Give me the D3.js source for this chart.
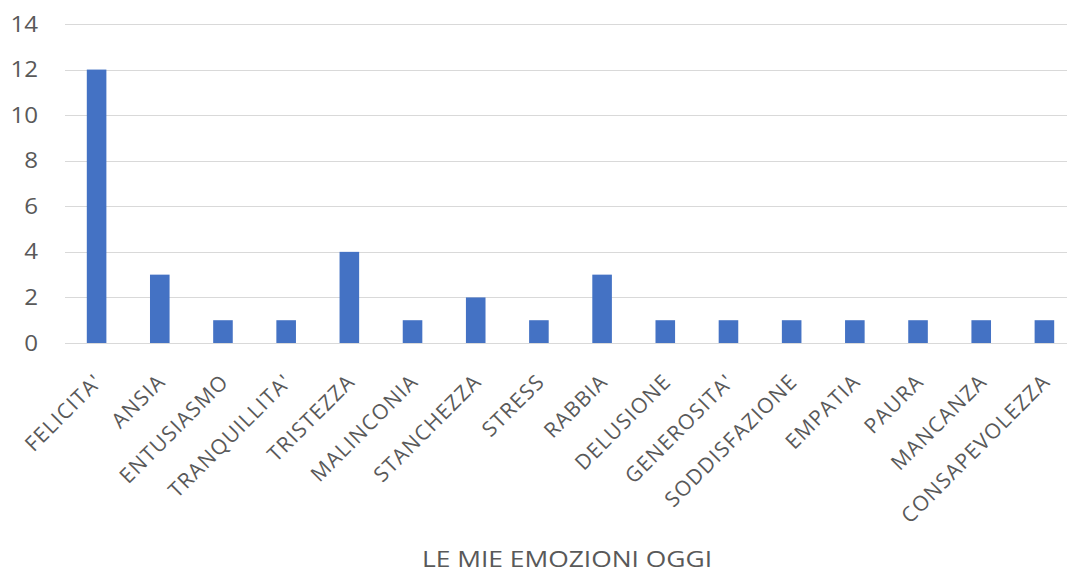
<!DOCTYPE html>
<meta charset="utf-8">
<style>
body { margin: 0; background: #fff; }
text { font-family: "Open Sans", sans-serif; fill: #595959; }
.grid line { stroke: #d9d9d9; stroke-width: 1px; }
</style>
<svg width="1067" height="578"></svg>
<script src="https://d3js.org/d3.v7.min.js"></script>
<script>

var categories = ["FELICITA'", "ANSIA", "ENTUSIASMO", "TRANQUILLITA'", "TRISTEZZA", "MALINCONIA",
  "STANCHEZZA", "STRESS", "RABBIA", "DELUSIONE", "GENEROSITA'", "SODDISFAZIONE",
  "EMPATIA", "PAURA", "MANCANZA", "CONSAPEVOLEZZA"];
var values = [12, 3, 1, 1, 4, 1, 2, 1, 3, 1, 1, 1, 1, 1, 1, 1];
var yTicks = [0, 2, 4, 6, 8, 10, 12, 14];
var title = "LE MIE EMOZIONI OGGI";

var svg = d3.select("svg"),
    plotLeft = 65, plotRight = 1076, plotTop = 24, plotBottom = 343;

var x = d3.scaleBand()
    .domain(categories)
    .range([plotLeft, plotRight])
    .paddingInner(0.69)
    .paddingOuter(0.345);

var y = d3.scaleLinear()
    .domain([0, 14])
    .range([plotBottom, plotTop]);

// gridlines
svg.append("g")
    .attr("class", "grid")
  .selectAll("line")
  .data(yTicks)
  .enter().append("line")
    .attr("x1", plotLeft)
    .attr("x2", plotRight)
    .attr("y1", function(d) { return Math.round(y(d)) + 0.5; })
    .attr("y2", function(d) { return Math.round(y(d)) + 0.5; });

// y labels
svg.append("g")
  .selectAll("text")
  .data(yTicks)
  .enter().append("text")
    .attr("transform", function(d) { return "translate(38," + y(d) + ") scale(1.15,1)"; })
    .attr("dy", "0.36em")
    .attr("text-anchor", "end")
    .style("font-size", "21px")
    .text(function(d) { return d; });

// bars
svg.append("g")
  .selectAll("rect")
  .data(values)
  .enter().append("rect")
    .attr("x", function(d, i) { return x(categories[i]); })
    .attr("width", x.bandwidth())
    .attr("y", function(d) { return y(d); })
    .attr("height", function(d) { return y(0) - y(d); })
    .attr("fill", "#4472c4");

// category labels
svg.append("g")
  .selectAll("text")
  .data(categories)
  .enter().append("text")
    .attr("transform", function(d) {
      return "translate(" + (x(d) + x.bandwidth() / 2 + 7) + ",383) rotate(-45)";
    })
    .attr("text-anchor", "end")
    .style("font-size", "21px")
    .style("letter-spacing", "1.2px")
    .text(function(d) { return d; });

// axis title
svg.append("text")
    .attr("transform", "translate(567,567) scale(1.2,1)")
    .attr("text-anchor", "middle")
    .style("font-size", "22px")
    .text(title);

</script>
